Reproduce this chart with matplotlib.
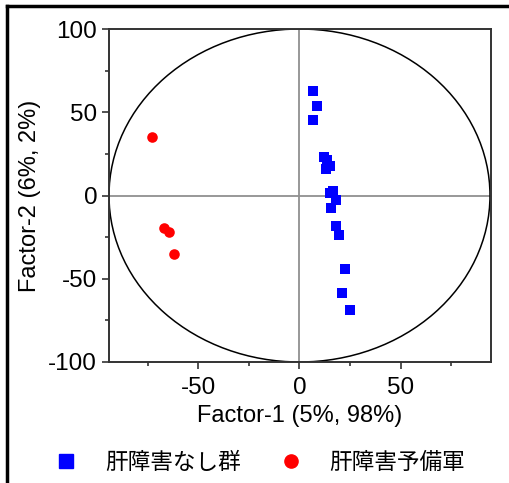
import matplotlib
matplotlib.use("Agg")
import matplotlib.pyplot as plt
from matplotlib.patches import Ellipse
from matplotlib.lines import Line2D

plt.rcParams['font.family'] = ['Liberation Sans', 'Noto Sans CJK JP', 'DejaVu Sans']
plt.rcParams['axes.unicode_minus'] = False

# group 1: 肝障害なし群 (blue squares)
none_x = [6.8, 8.7, 6.8, 12.3, 13.6, 15.3, 13.3, 16.4, 15.3, 17.8, 15.6, 18.1, 19.7, 22.7, 21.1, 24.8]
none_y = [62.6, 54.0, 45.6, 23.4, 21.5, 18.0, 16.0, 3.0, 1.5, -3.0, -7.4, -18.6, -24.0, -44.4, -58.3, -68.6]

# group 2: 肝障害予備軍 (red circles)
pre_x = [-72.9, -67.0, -64.5, -62.0]
pre_y = [35.4, -19.6, -22.0, -35.0]

labels = ['肝障害なし群', '肝障害予備軍']
xlabel = 'Factor-1 (5%, 98%)'
ylabel = 'Factor-2 (6%, 2%)'

fig = plt.figure(figsize=(5.09, 4.83), dpi=100)
ax = fig.add_axes([109 / 509, 1 - 362 / 483, (491 - 109) / 509, (362 - 29) / 483])

ax.axhline(0, color='#909090', lw=1.3, zorder=1)
ax.axvline(0, color='#909090', lw=1.3, zorder=1)
ax.add_patch(Ellipse((0, 0), 188, 200, fill=False, ec='black', lw=1.1, zorder=2))

ax.scatter(none_x, none_y, marker='s', s=58, color='#0000ff', zorder=3, linewidths=0)
ax.scatter(pre_x, pre_y, marker='o', s=58, color='#ff0000', zorder=3, linewidths=0)

ax.set_xlim(-94, 94.5)
ax.set_ylim(-100, 100)
ax.set_xticks([-50, 0, 50])
ax.set_xticks([-75, -25, 25, 75], minor=True)
ax.set_yticks([-100, -50, 0, 50, 100])
ax.set_yticks([-75, -25, 25, 75], minor=True)
ax.tick_params(axis='x', which='major', pad=6)
ax.tick_params(which='major', direction='out', length=5, width=1.2, labelsize=17.5,
               color='#333333')
ax.tick_params(which='minor', direction='out', length=3, width=1.2, color='#333333')
for s in ax.spines.values():
    s.set_linewidth(1.4)
    s.set_color('#333333')

ax.set_xlabel(xlabel, fontsize=17, labelpad=4)
ax.set_ylabel(ylabel, fontsize=17, labelpad=5)

handles = [Line2D([], [], marker='s', ls='', color='#0000ff', markersize=10),
           Line2D([], [], marker='o', ls='', color='#ff0000', markersize=9.5)]
fig.legend(handles, labels, loc='center left', bbox_to_anchor=(55 / 509, 1 - 462 / 483), ncol=2,
           frameon=False, handlelength=1.0, handletextpad=1.2, columnspacing=1.72,
           borderpad=0, borderaxespad=0,
           prop={'family': ['Noto Sans CJK JP'], 'size': 16.3})

# outer frame (left and top edges visible)
fig.add_artist(Line2D([7 / 509, 7 / 509], [0, 1 - 6 / 483], color='black', lw=2.5, transform=fig.transFigure))
fig.add_artist(Line2D([7 / 509, 1], [1 - 6 / 483, 1 - 6 / 483], color='black', lw=2.5, transform=fig.transFigure))

fig.savefig('out.png', dpi=100)
